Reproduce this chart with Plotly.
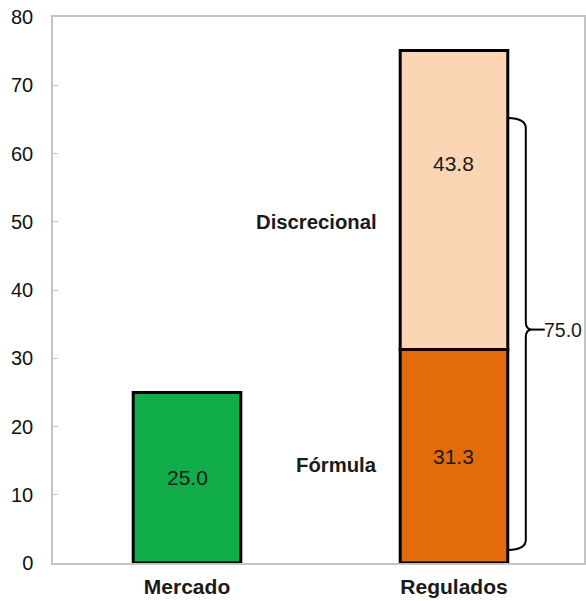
import plotly.graph_objects as go

categories = ["Mercado", "Regulados"]
mercado = [25.0, 0]
formula = [0, 31.3]
discrecional = [0, 43.8]
total_regulados = 75.0
segment_names = ["Discrecional", "Fórmula"]
y_ticks = [0, 10, 20, 30, 40, 50, 60, 70, 80]

GREEN = "#12AD4B"
ORANGE = "#E36C0A"
PEACH = "#FCD5B5"
LINE = dict(color="#000000", width=3)
BW = 0.403

fig = go.Figure()
fig.add_trace(go.Bar(x=[0], y=[mercado[0]], width=BW, marker=dict(color=GREEN, line=LINE)))
fig.add_trace(go.Bar(x=[1], y=[formula[1]], width=BW, marker=dict(color=ORANGE, line=LINE)))
fig.add_trace(go.Bar(x=[1], y=[discrecional[1]], base=[formula[1]], width=BW,
                     marker=dict(color=PEACH, line=LINE)))

num_font = dict(family="Liberation Sans, Arial", size=21, color="#1a1a1a")
bold_font = dict(family="Liberation Sans, Arial", size=20.3, color="#1a1a1a", weight="bold")
cat_font = dict(family="Liberation Sans, Arial", size=21, color="#1a1a1a", weight="bold")

anns = [
    dict(x=0, y=mercado[0] / 2, text=f"{mercado[0]:.1f}", showarrow=False, font=num_font),
    dict(x=1, y=formula[1] / 2, text=f"{formula[1]:.1f}", showarrow=False, font=num_font),
    dict(x=1, y=formula[1] + discrecional[1] / 2, yshift=36, text=f"{discrecional[1]:.1f}",
         showarrow=False, font=num_font),
    dict(x=0.72, y=50, xanchor="right", text=segment_names[0], showarrow=False, font=bold_font),
    dict(x=0.72, y=14.4, xanchor="right", text=segment_names[1], showarrow=False, font=bold_font),
    dict(x=1.35, y=34.2, xanchor="left", xshift=-5, text=f"{total_regulados:.1f}",
         showarrow=False, font=dict(family="Liberation Sans, Arial", size=19.5, color="#1a1a1a")),
]

# curly brace
bx0, bx1, tip = 1.2, 1.269, 1.292
top, bot, mid = 65.2, 1.9, 34.2
path = (f"M {bx0},{top} Q {bx1},{top} {bx1},{top-1.5} L {bx1},{mid+1.2} "
        f"Q {bx1},{mid} {tip},{mid} Q {bx1},{mid} {bx1},{mid-1.2} "
        f"L {bx1},{bot+1.5} Q {bx1},{bot} {bx0},{bot}")
shapes = [
    dict(type="path", path=path, xref="x", yref="y", line=dict(color="#000", width=2)),
    dict(type="line", x0=tip, x1=1.34, y0=mid, y1=mid, xref="x", yref="y",
         line=dict(color="#000", width=2)),
]

fig.update_layout(
    width=586, height=601,
    margin=dict(l=53, r=0, t=17, b=38),
    paper_bgcolor="white", plot_bgcolor="white",
    showlegend=False, barmode="overlay",
    annotations=anns, shapes=shapes,
    xaxis=dict(range=[-0.502, 1.487], tickvals=[0, 1], ticktext=categories,
               tickfont=cat_font, showline=True, linecolor="#c4c4c4", linewidth=1.5,
               mirror=True, showgrid=False, zeroline=False, ticks="",
               ticklabelstandoff=4),
    yaxis=dict(range=[0, 80], tickvals=y_ticks, showline=True, linecolor="#c4c4c4",
               linewidth=1.5, mirror=True, showgrid=False, zeroline=False,
               ticks="inside", ticklen=5, tickcolor="#c4c4c4",
               tickfont=dict(family="Liberation Sans, Arial", size=20, color="#111"),
               ticklabelstandoff=14),
)

fig.write_html("out.html")
